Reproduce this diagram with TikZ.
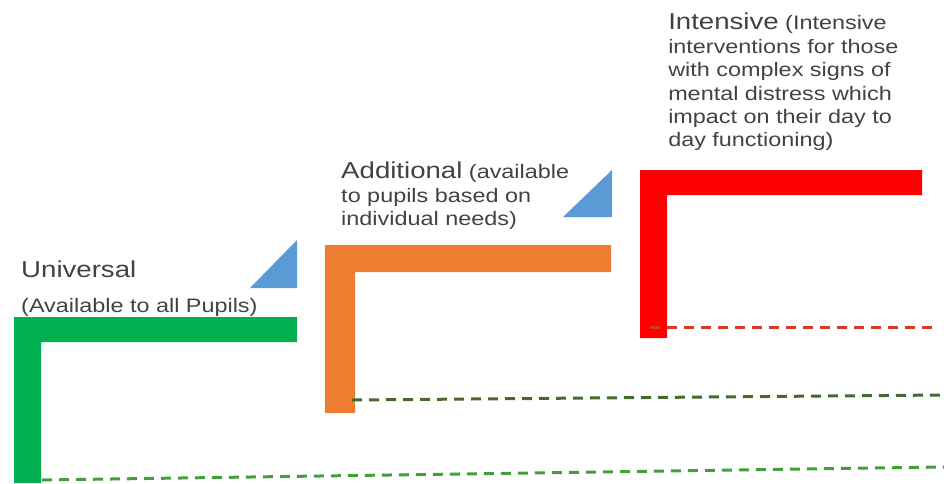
\documentclass[tikz,border=0pt]{standalone}
\usepackage{fontspec}
\setmainfont{Liberation Sans}

\definecolor{tiergreen}{RGB}{0,176,80}
\definecolor{tierorange}{RGB}{237,125,49}
\definecolor{tierred}{RGB}{255,0,0}
\definecolor{stepblue}{RGB}{91,155,213}
\definecolor{textgray}{RGB}{66,66,66}
\definecolor{dashred}{RGB}{215,60,35}
\definecolor{dasholive}{RGB}{70,105,45}
\definecolor{dashgreen}{RGB}{65,160,55}

\newcommand{\bigword}[1]{{\fontsize{23}{23.4}\selectfont #1}}

\begin{document}
\begin{tikzpicture}[x=1pt, y=-1pt,
    tiertext/.style={anchor=north west, inner sep=0pt, align=left, xscale=1.2,
      text=textgray, font=\fontsize{19.5}{23.4}\selectfont},
    tierline/.style={draw=#1, line width=3pt, dash pattern=on 10pt off 7pt}]
    \useasboundingbox (0,0) rectangle (944,483);

    % 階段
    \fill[tiergreen] (14,317) -- (297,317) -- (297,342) -- (41,342) -- (41,483) -- (14,483) -- cycle;
    \fill[tierorange] (325,245) -- (611,245) -- (611,272) -- (355,272) -- (355,413) -- (325,413) -- cycle;
    \fill[tierred] (640,170) -- (922,170) -- (922,195) -- (667,195) -- (667,338) -- (640,338) -- cycle;

    % 三角形
    \fill[stepblue] (250,288) -- (297,288) -- (297,240) -- cycle;
    \fill[stepblue] (563,217) -- (612,217) -- (612,170) -- cycle;

    % ノード
    \node[tiertext, anchor=base west, font=\fontsize{23}{23.4}\selectfont] (univ) at (21,277) {Universal};
    \node[tiertext, anchor=base west] (univnote) at (21,312) {(Available to all Pupils)};
    \node[tiertext] (addl) at (341,162) {\bigword{Additional} (available\\to pupils based on\\individual needs)};
    \node[tiertext] (intens) at (668,13) {\bigword{Intensive} (Intensive\\interventions for those\\with complex signs of\\mental distress which\\impact on their day to\\day functioning)};

    % 点線
    \coordinate (g0) at (42,480);
    \coordinate (g1) at (944,467);
    \coordinate (o0) at (352,400);
    \coordinate (o1) at (944,395);
    \coordinate (r0) at (650,327);
    \coordinate (r1) at (937,327);
    \draw[tierline=dashgreen] (g0) -- (g1);
    \draw[tierline=dasholive] (o0) -- (o1);
    \draw[tierline=dashred] (r0) -- (r1);
\end{tikzpicture}
\end{document}
